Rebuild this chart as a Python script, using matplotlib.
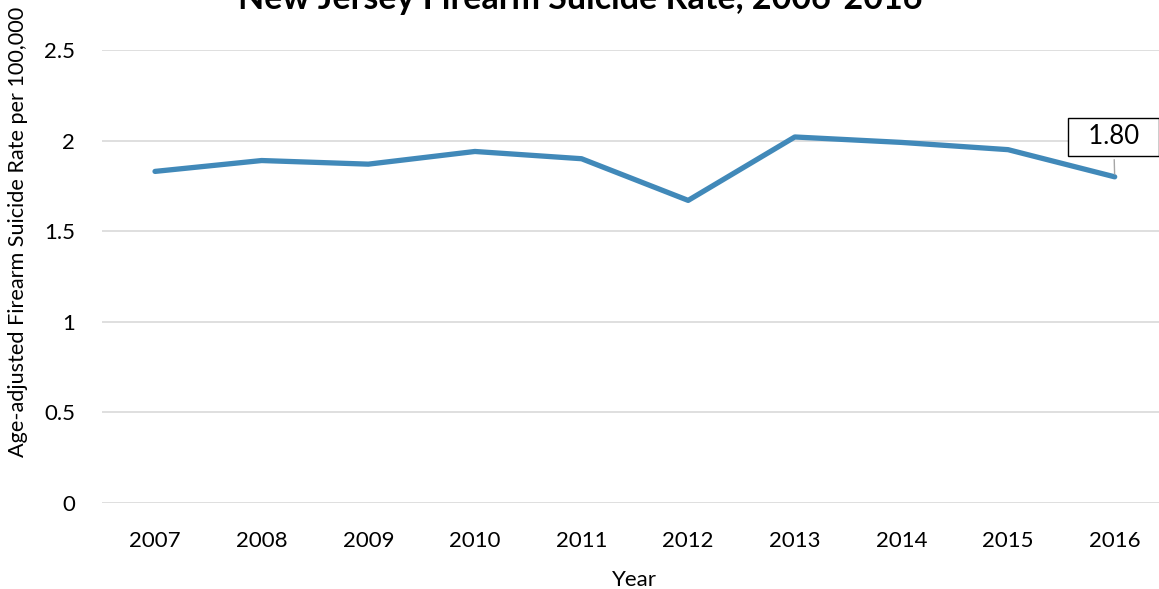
import matplotlib.pyplot as plt

plt.rcParams['font.family'] = ['Lato', 'DejaVu Sans']

# Data
years = ['2007', '2008', '2009', '2010', '2011', '2012', '2013', '2014', '2015', '2016']
rate = [1.83, 1.89, 1.87, 1.94, 1.90, 1.67, 2.02, 1.99, 1.95, 1.80]

fig = plt.figure(figsize=(11.59, 5.89), dpi=100)
W, H = 1159, 589
ax = fig.add_axes([101.7 / W, 1 - 503 / H, (1168 - 101.7) / W, (503 - 50) / H])

x = list(range(len(years)))
ax.plot(x, rate, color='#4189b9', lw=3.8, solid_capstyle='round', zorder=3)

ax.set_xlim(-0.5, len(years) - 0.5)
ax.set_ylim(0, 2.5)
ax.set_yticks([0, 0.5, 1, 1.5, 2, 2.5])
ax.set_yticklabels(['0', '0.5', '1', '1.5', '2', '2.5'])
ax.set_xticks(x)
ax.set_xticklabels(years)
ax.tick_params(length=0, labelsize=16, colors='black')
ax.tick_params(axis='x', pad=20)
ax.tick_params(axis='y', pad=19)
ax.grid(axis='y', color='#d9d9d9', lw=1.2)
for s in ax.spines.values():
    s.set_visible(False)
ax.set_axisbelow(True)

ax.set_xlabel('Year', fontsize=16, labelpad=14)
fig.text(18 / W, 1 - 232 / H, 'Age-adjusted Firearm Suicide Rate per 100,000',
         rotation=90, fontsize=15.6, ha='center', va='center')

fig.text(580 / W, 1 - 9 / H, 'New Jersey Firearm Suicide Rate, 2006-2016',
         fontsize=24.5, fontweight='bold', ha='center', va='baseline')

# data label for last point
ax.annotate(f'  {rate[-1]:.2f}  ', xy=(x[-1], rate[-1]), xytext=(x[-1] - 0.01, 2.02),
            ha='center', va='center', fontsize=18.5,
            bbox=dict(boxstyle='square,pad=0.27', fc='white', ec='black', lw=1),
            arrowprops=dict(arrowstyle='-', color='#a6a6a6', lw=1))

fig.savefig('out.png', dpi=100)
